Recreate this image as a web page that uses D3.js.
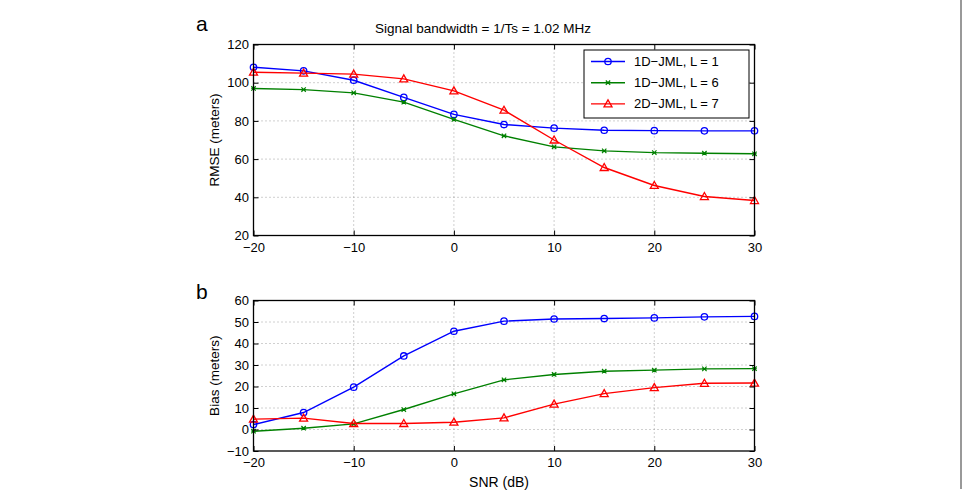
<!DOCTYPE html>
<html>
<head>
<meta charset="utf-8">
<script src="https://cdn.jsdelivr.net/npm/d3@7"></script>
<style>
  body { margin: 0; background: #fff; }
  svg { display: block; font-family: "Liberation Sans", Arial, Helvetica, sans-serif; }
</style>
</head>
<body>
<svg id="chart" width="964" height="490"></svg>
<script>
// SNR values (dB)
var snr = [-20, -15, -10, -5, 0, 5, 10, 15, 20, 25, 30];

// panel a: RMSE (meters)
var rmseL1 = [108.1, 106.2, 101.3, 92.3, 83.4, 78.1, 76.2, 75.1, 74.9, 74.8, 74.8];
var rmseL6 = [97.0, 96.4, 94.7, 89.8, 80.8, 72.2, 66.4, 64.3, 63.4, 63.1, 62.8];
var rmse2D = [105.5, 105.0, 104.5, 102.0, 95.7, 85.6, 70.0, 55.6, 46.2, 40.4, 38.3];

// panel b: Bias (meters)
var biasL1 = [2.3, 7.9, 19.7, 34.2, 45.7, 50.4, 51.4, 51.6, 51.9, 52.4, 52.6];
var biasL6 = [-0.8, 0.6, 2.6, 9.3, 16.6, 23.1, 25.6, 27.1, 27.6, 28.2, 28.3];
var bias2D = [4.8, 5.3, 2.8, 2.8, 3.4, 5.4, 11.8, 16.7, 19.5, 21.5, 21.6];

var seriesNames = ['1D\u2212JML, L = 1', '1D\u2212JML, L = 6', '2D\u2212JML, L = 7'];
var seriesColors = ['#0000ff', '#008000', '#ff0000'];
var seriesMarkers = ['circle', 'star', 'triangle'];

var xTicks = [-20, -10, 0, 10, 20, 30];
var rmseTicks = [20, 40, 60, 80, 100, 120];
var biasTicks = [-10, 0, 10, 20, 30, 40, 50, 60];

var svg = d3.select('#chart');

var left = 253.5, right = 754.5;

var x = d3.scaleLinear().domain([-20, 30]).range([left, right]);

var fmt = function (d) { return d3.format('d')(d); };

function drawMarker(g, type, color, cx, cy) {
    if (type === 'circle') {
        g.append('circle')
            .attr('cx', cx).attr('cy', cy).attr('r', 3.2)
            .attr('fill', 'none').attr('stroke', color).attr('stroke-width', 1.3);
    } else if (type === 'triangle') {
        var s = 4;
        g.append('path')
            .attr('d', 'M' + cx + ',' + (cy - s) + 'L' + (cx + s) + ',' + (cy + s * 0.75) + 'L' + (cx - s) + ',' + (cy + s * 0.75) + 'Z')
            .attr('fill', 'none').attr('stroke', color).attr('stroke-width', 1.3);
    } else {
        var r = 2.2;
        g.append('path')
            .attr('d', 'M' + (cx - r) + ',' + (cy - r) + 'L' + (cx + r) + ',' + (cy + r) +
                'M' + (cx - r) + ',' + (cy + r) + 'L' + (cx + r) + ',' + (cy - r) +
                'M' + (cx - r) + ',' + cy + 'L' + (cx + r) + ',' + cy)
            .attr('stroke', color).attr('stroke-width', 1.2);
    }
}

function drawPanel(top, bottom, domain, yTicks, series, ylabel) {
    var y = d3.scaleLinear().domain(domain).range([bottom, top]);
    var g = svg.append('g');

    // grid
    var grid = g.append('g').attr('stroke', '#888').attr('stroke-width', 0.8).attr('stroke-dasharray', '1,3');
    grid.selectAll('.gx').data(xTicks.slice(1, -1)).enter().append('line')
        .attr('x1', function (d) { return x(d); }).attr('x2', function (d) { return x(d); })
        .attr('y1', top).attr('y2', bottom);
    grid.selectAll('.gy').data(yTicks.slice(1, -1)).enter().append('line')
        .attr('y1', function (d) { return y(d); }).attr('y2', function (d) { return y(d); })
        .attr('x1', left).attr('x2', right);

    // lines + markers
    var line = d3.line()
        .x(function (d, i) { return x(snr[i]); })
        .y(function (d) { return y(d); });

    series.forEach(function (vals, k) {
        g.append('path')
            .datum(vals)
            .attr('d', line)
            .attr('fill', 'none')
            .attr('stroke', seriesColors[k])
            .attr('stroke-width', 1.4);
        var mg = g.append('g');
        vals.forEach(function (v, i) {
            drawMarker(mg, seriesMarkers[k], seriesColors[k], x(snr[i]), y(v));
        });
    });

    // axes (ticks inward, MATLAB style)
    var tl = 5;
    var xb = g.append('g').attr('transform', 'translate(0,' + bottom + ')')
        .call(d3.axisBottom(x).tickValues(xTicks).tickSize(-tl).tickPadding(7).tickFormat(fmt));
    var xt = g.append('g').attr('transform', 'translate(0,' + top + ')')
        .call(d3.axisTop(x).tickValues(xTicks).tickSize(-tl).tickFormat(''));
    var yl = g.append('g').attr('transform', 'translate(' + left + ',0)')
        .call(d3.axisLeft(y).tickValues(yTicks).tickSize(-tl).tickPadding(4.5).tickFormat(fmt));
    var yr = g.append('g').attr('transform', 'translate(' + right + ',0)')
        .call(d3.axisRight(y).tickValues(yTicks).tickSize(-tl).tickFormat(''));

    [xb, xt, yl, yr].forEach(function (a) {
        a.select('.domain').remove();
        a.selectAll('line').attr('stroke', '#000').attr('stroke-width', 1);
        a.selectAll('text').attr('fill', '#000').style('font-size', '13px')
            .style('font-family', '"Liberation Sans", Arial, sans-serif');
    });

    g.append('rect')
        .attr('x', left).attr('y', top)
        .attr('width', right - left).attr('height', bottom - top)
        .attr('fill', 'none').attr('stroke', '#000').attr('stroke-width', 1.3);

    g.append('text')
        .attr('transform', 'translate(219,' + ((top + bottom) / 2) + ') rotate(-90)')
        .attr('text-anchor', 'middle')
        .style('font-size', '13.5px')
        .text(ylabel);

    return y;
}

drawPanel(44.5, 235.5, [20, 120], rmseTicks, [rmseL1, rmseL6, rmse2D], 'RMSE (meters)');
drawPanel(300.5, 451, [-10, 60], biasTicks, [biasL1, biasL6, bias2D], 'Bias (meters)');

// title
svg.append('text')
    .attr('x', 483).attr('y', 33)
    .attr('text-anchor', 'middle')
    .style('font-size', '13.5px')
    .text('Signal bandwidth = 1/Ts = 1.02 MHz');

// x label
svg.append('text')
    .attr('x', 499).attr('y', 487)
    .attr('text-anchor', 'middle')
    .style('font-size', '14px')
    .text('SNR (dB)');

// panel letters
svg.append('text').attr('x', 196).attr('y', 31).style('font-size', '21px').text('a');
svg.append('text').attr('x', 196).attr('y', 299).style('font-size', '21px').text('b');

// legend
var lg = svg.append('g');
lg.append('rect')
    .attr('x', 584).attr('y', 50)
    .attr('width', 165).attr('height', 68)
    .attr('fill', '#fff').attr('stroke', '#000').attr('stroke-width', 1);
seriesNames.forEach(function (name, k) {
    var ly = 61.5 + k * 21.2;
    lg.append('line')
        .attr('x1', 591).attr('x2', 625).attr('y1', ly).attr('y2', ly)
        .attr('stroke', seriesColors[k]).attr('stroke-width', 1.4);
    drawMarker(lg, seriesMarkers[k], seriesColors[k], 608, ly);
    lg.append('text')
        .attr('x', 634).attr('y', ly + 4.5)
        .style('font-size', '13px')
        .text(name);
});

// page border at right
svg.append('line')
    .attr('x1', 961).attr('x2', 961).attr('y1', 0).attr('y2', 489)
    .attr('stroke', '#999').attr('stroke-width', 2);
</script>
</body>
</html>
